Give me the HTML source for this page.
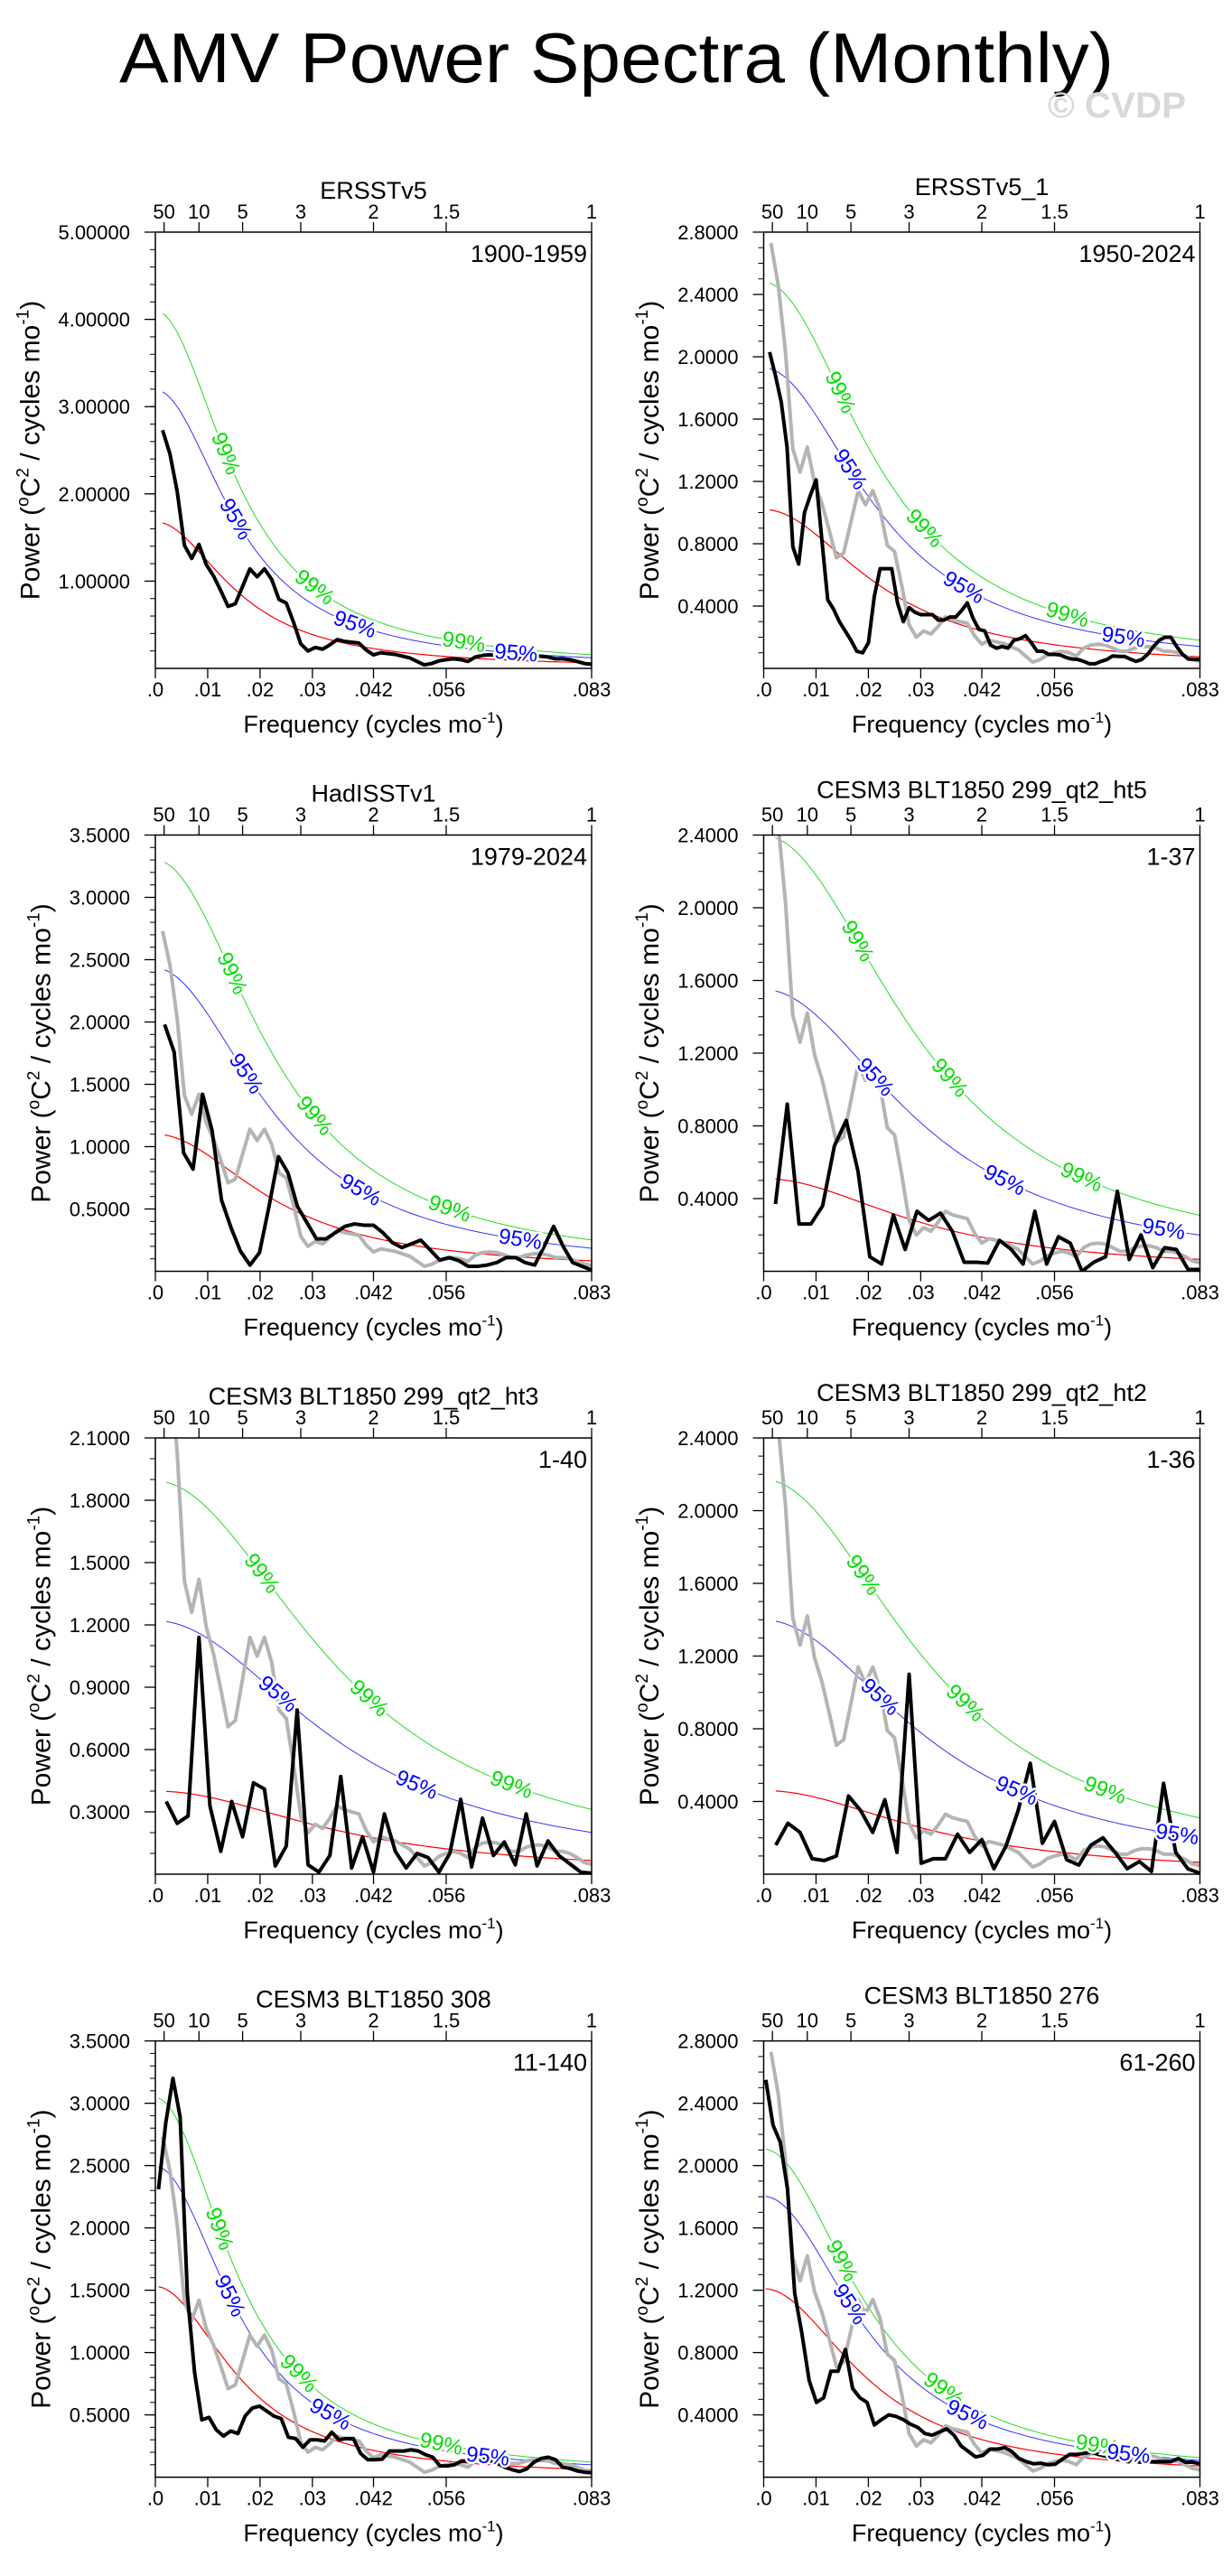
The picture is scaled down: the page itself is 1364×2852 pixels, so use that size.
<!DOCTYPE html>
<html><head><meta charset="utf-8"><title>AMV Power Spectra (Monthly)</title>
<style>
html,body{margin:0;padding:0;background:#fff;}
svg{display:block;font-family:"Liberation Sans",Arial,sans-serif;}
</style></head>
<body>
<svg id="fig" xmlns="http://www.w3.org/2000/svg" width="1364" height="2852" viewBox="0 0 1364 2852">
<rect x="0" y="0" width="1364" height="2852" fill="#fff"/>
<text x="132" y="91" font-size="78" textLength="1101" lengthAdjust="spacingAndGlyphs" fill="#000">AMV Power Spectra (Monthly)</text>
<text x="1160" y="130" font-size="40" font-weight="bold" fill="#d8d8d8" textLength="153" lengthAdjust="spacingAndGlyphs">© CVDP</text>
</svg>
<script>
// ===== Data =====
// Observed reference (ERSSTv5 1900-1959), drawn in grey on panels 2-8
const obsPower = [2.73,2.46,2.03,1.41,1.26,1.42,1.19,1.06,0.89,0.71,0.74,0.94,1.14,1.05,1.14,1.02,0.79,0.75,0.53,0.28,0.20,0.24,0.22,0.27,0.33,0.31,0.30,0.29,0.21,0.155,0.18,0.17,0.16,0.14,0.12,0.08,0.04,0.056,0.086,0.10,0.11,0.10,0.08,0.13,0.15,0.155,0.15,0.13,0.11,0.11,0.13,0.14,0.14,0.13,0.11,0.11,0.10,0.08,0.056,0.047];
const obsF0 = 1/720;

const panelTitles = ["ERSSTv5","ERSSTv5_1","HadISSTv1","CESM3 BLT1850 299_qt2_ht5","CESM3 BLT1850 299_qt2_ht3","CESM3 BLT1850 299_qt2_ht2","CESM3 BLT1850 308","CESM3 BLT1850 276"];
const panelYears = ["1900-1959","1950-2024","1979-2024","1-37","1-40","1-36","11-140","61-260"];

const p1Power = obsPower;
const p2Power = [2.03,1.88,1.71,1.42,0.78,0.67,1.00,1.11,1.21,0.82,0.44,0.38,0.30,0.24,0.18,0.11,0.10,0.165,0.46,0.64,0.64,0.64,0.42,0.30,0.39,0.36,0.345,0.345,0.345,0.31,0.31,0.33,0.33,0.37,0.42,0.32,0.25,0.24,0.15,0.13,0.14,0.13,0.18,0.19,0.21,0.165,0.11,0.11,0.09,0.09,0.086,0.07,0.06,0.057,0.045,0.03,0.03,0.045,0.057,0.08,0.077,0.077,0.06,0.045,0.057,0.09,0.14,0.18,0.20,0.20,0.14,0.09,0.06,0.057,0.057];
const p3Power = [1.98,1.76,0.95,0.82,1.42,1.13,0.57,0.35,0.16,0.05,0.15,0.52,0.92,0.79,0.52,0.39,0.26,0.26,0.31,0.36,0.38,0.37,0.37,0.31,0.23,0.19,0.22,0.25,0.17,0.09,0.11,0.085,0.04,0.04,0.05,0.07,0.11,0.11,0.07,0.05,0.2,0.36,0.2,0.07,0.04,0.01];
const p4Power = [0.37,0.92,0.26,0.26,0.36,0.69,0.83,0.55,0.08,0.04,0.31,0.12,0.33,0.28,0.32,0.22,0.05,0.05,0.045,0.17,0.12,0.04,0.33,0.04,0.19,0.155,0.0,0.05,0.08,0.44,0.065,0.2,0.02,0.13,0.12,0.01,0.01];
const p5Power = [0.35,0.245,0.28,1.14,0.33,0.11,0.35,0.18,0.44,0.41,0.04,0.135,0.79,0.045,0.01,0.09,0.47,0.03,0.18,0.01,0.29,0.11,0.03,0.10,0.08,0.01,0.10,0.36,0.035,0.27,0.09,0.155,0.045,0.29,0.04,0.16,0.09,0.05,0.01,0.005];
const p6Power = [0.16,0.28,0.23,0.085,0.075,0.10,0.43,0.35,0.23,0.41,0.12,1.10,0.06,0.085,0.085,0.22,0.12,0.19,0.03,0.155,0.35,0.61,0.17,0.29,0.08,0.05,0.16,0.20,0.12,0.03,0.07,0.015,0.50,0.12,0.03,0.005];
const p7Power = [2.31,2.84,3.20,2.89,1.47,0.84,0.46,0.48,0.38,0.33,0.37,0.35,0.49,0.555,0.57,0.53,0.49,0.47,0.32,0.31,0.24,0.30,0.30,0.29,0.36,0.30,0.31,0.31,0.19,0.14,0.14,0.145,0.21,0.21,0.21,0.22,0.21,0.18,0.16,0.09,0.09,0.10,0.13,0.13,0.15,0.145,0.13,0.11,0.08,0.06,0.045,0.066,0.12,0.15,0.16,0.14,0.08,0.07,0.05,0.04,0.035];
const p8Power = [2.55,2.26,2.15,1.85,1.18,0.92,0.62,0.48,0.51,0.68,0.68,0.82,0.57,0.51,0.48,0.335,0.37,0.40,0.39,0.37,0.34,0.32,0.28,0.27,0.29,0.31,0.27,0.20,0.165,0.13,0.14,0.18,0.18,0.19,0.165,0.12,0.10,0.086,0.09,0.08,0.083,0.116,0.146,0.146,0.154,0.16,0.146,0.134,0.12,0.11,0.10,0.10,0.096,0.10,0.10,0.10,0.10,0.12,0.096,0.096,0.086];
const panelPower = [p1Power,p2Power,p3Power,p4Power,p5Power,p6Power,p7Power,p8Power];
const panelFirstFreq = [1/720,0.00113,0.00177,1/444,1/480,1/432,0.0006,0.0004];

// red-noise (Markov) fit parameters and significance multipliers
const redNoiseS0 = [1.68,1.02,1.10,0.51,0.40,0.46,1.53,1.21];
const redNoiseLag1 = [0.902,0.865,0.862,0.82,0.795,0.81,0.90,0.878];
const sig95Factor = [1.90,1.89,2.21,3.04,3.05,3.04,1.63,1.49];
const sig99Factor = [2.44,2.43,3.0,4.7,4.73,4.72,1.99,1.74];

// y-axis ranges and ticks
const yMax = [5.0,2.8,3.5,2.4,2.1,2.4,3.5,2.8];
const yMajorStep = [1.0,0.4,0.5,0.4,0.3,0.4,0.5,0.4];
const yMinorStep = [0.2,0.1,0.1,0.1,0.1,0.1,0.1,0.1];
const yDecimals = [5,4,4,4,4,4,4,4];

// x-axis ticks
const xTickValues = [0,0.01,0.02,0.03,1/24,1/18,1/12];
const xTickLabels = [".0",".01",".02",".03",".042",".056",".083"];
const periodTickYears = [50,10,5,3,2,1.5,1];
const periodTickLabels = ["50","10","5","3","2","1.5","1"];

// label positions (frequency) along significance curves
const label99Freq = [[0.0134,0.0304,0.0589],[0.0146,0.0307,0.058],[0.0146,0.0304,0.0562],[0.0179,0.0355,0.0607],[0.0203,0.0408,0.068],[0.019,0.0385,0.0652],[0.0122,0.0274,0.0546],[0.0149,0.0344,0.0637]];
const label95Freq = [[0.0153,0.0381,0.0689],[0.0165,0.0382,0.0687],[0.0173,0.0392,0.0697],[0.0213,0.046,0.0764],[0.0234,0.0499],[0.0222,0.0483,0.079],[0.0142,0.0334,0.0635],[0.0164,0.0389,0.0697]];

// ===== Layout =====
const colX = [172,845.5];
const rowY = [257,924.5,1592,2259.6];
const PW = 483, PH = 483, FMAX = 1/12;
const NS = "http://www.w3.org/2000/svg";
const svg = document.getElementById('fig');

function mk(tag, attrs, parent){
  const e = document.createElementNS(NS, tag);
  for (const k in attrs) e.setAttribute(k, attrs[k]);
  (parent||svg).appendChild(e);
  return e;
}
function redNoise(i,f){
  const r = redNoiseLag1[i];
  return redNoiseS0[i]*(1-r)*(1-r)/(1+r*r-2*r*Math.cos(2*Math.PI*f));
}

for (let p=0; p<8; p++){
  const col = p%2, row = Math.floor(p/2);
  const X0 = colX[col], Y0 = rowY[row];
  const xs = f => X0 + f/FMAX*PW;
  const ys = v => Y0 + PH - v/yMax[p]*PH;

  const g = mk('g',{});
  
  

  const clipId = 'clip'+p;
  const cp = mk('clipPath',{id:clipId}, g);
  mk('rect',{x:X0,y:Y0,width:PW,height:PH}, cp);
  const plot = mk('g',{'clip-path':'url(#'+clipId+')'}, g);

  const nC = 120, f0 = panelFirstFreq[p];
  function curvePath(fac){
    let d='';
    for (let k=0;k<=nC;k++){
      const f = f0 + (FMAX-f0)*k/nC;
      d += (k?'L':'M') + xs(f).toFixed(2)+','+ys(redNoise(p,f)*fac).toFixed(2);
    }
    return d;
  }
  const c99 = mk('path',{d:curvePath(sig99Factor[p]),fill:'none',stroke:'#22dd22','stroke-width':1}, plot);
  
  
  const c95 = mk('path',{d:curvePath(sig95Factor[p]),fill:'none',stroke:'#3333ff','stroke-width':1}, plot);
  
  
  const cr = mk('path',{d:curvePath(1),fill:'none',stroke:'#ff0000','stroke-width':1.2}, plot);
  
  

  if (p>0){
    let d='';
    obsPower.forEach((v,k)=>{ const f = obsF0 + (FMAX-obsF0)*k/(obsPower.length-1); d += (k?'L':'M')+xs(f).toFixed(2)+','+ys(v).toFixed(2); });
    const gl = mk('path',{d:d,fill:'none',stroke:'#b4b4b4','stroke-width':4,'stroke-linejoin':'round'}, plot);
    
    
  }
  {
    const arr = panelPower[p];
    let d='';
    arr.forEach((v,k)=>{ const f = f0 + (FMAX-f0)*k/(arr.length-1); d += (k?'L':'M')+xs(f).toFixed(2)+','+ys(v).toFixed(2); });
    const bl = mk('path',{d:d,fill:'none',stroke:'#000','stroke-width':4,'stroke-linejoin':'round'}, plot);
    
    
  }

  function addLabel(f, fac, txt, color, nm){
    const x = xs(f), y = ys(redNoise(p,f)*fac);
    const x2 = xs(f+0.0005), y2 = ys(redNoise(p,f+0.0005)*fac);
    const ang = Math.atan2(y2-y, x2-x)*180/Math.PI;
    const t = mk('text',{x:x,y:y,'font-size':24,fill:color,'text-anchor':'middle','dominant-baseline':'central',
      stroke:'#fff','stroke-width':5,'paint-order':'stroke',transform:'rotate('+ang.toFixed(1)+' '+x.toFixed(1)+' '+y.toFixed(1)+')'}, g);
    t.textContent = txt;
    
    
  }
  label99Freq[p].forEach(f=>addLabel(f, sig99Factor[p], '99%', '#00dd00', 'sig99-label'));
  label95Freq[p].forEach(f=>addLabel(f, sig95Factor[p], '95%', '#0000ff', 'sig95-label'));

  const fr = mk('rect',{x:X0,y:Y0,width:PW,height:PH,fill:'none',stroke:'#000','stroke-width':1.5}, g);
  
  

  const nMin = Math.round(yMax[p]/yMinorStep[p]);
  for (let k=1;k<=nMin;k++){
    const v = k*yMinorStep[p];
    mk('line',{x1:X0-6,x2:X0,y1:ys(v),y2:ys(v),stroke:'#000','stroke-width':1}, g);
  }
  const nMaj = Math.round(yMax[p]/yMajorStep[p]);
  for (let k=1;k<=nMaj;k++){
    const v = k*yMajorStep[p];
    mk('line',{x1:X0-12,x2:X0,y1:ys(v),y2:ys(v),stroke:'#000','stroke-width':1.3}, g);
    const t = mk('text',{x:X0-28,y:ys(v)+8,'font-size':22,'text-anchor':'end',fill:'#000'}, g);
    t.textContent = v.toFixed(yDecimals[p]);
    
    
  }
  xTickValues.forEach((v,k)=>{
    mk('line',{x1:xs(v),x2:xs(v),y1:Y0+PH,y2:Y0+PH+11,stroke:'#000','stroke-width':1.3}, g);
    const t = mk('text',{x:xs(v),y:Y0+PH+31,'font-size':22,'text-anchor':'middle',fill:'#000'}, g);
    t.textContent = xTickLabels[k];
    
    
  });
  periodTickYears.forEach((yr,k)=>{
    const x = xs(1/(12*yr));
    mk('line',{x1:x,x2:x,y1:Y0,y2:Y0-11,stroke:'#000','stroke-width':1.3}, g);
    const t = mk('text',{x:x,y:Y0-15,'font-size':22,'text-anchor':'middle',fill:'#000'}, g);
    t.textContent = periodTickLabels[k];
    
    
  });

  const tt = mk('text',{x:X0+PW/2,y:Y0-(col?41:37),'font-size':27,'text-anchor':'middle',fill:'#000'}, g);
  tt.textContent = panelTitles[p];
  
  
  const yr = mk('text',{x:X0+PW-5,y:Y0+33,'font-size':27,'text-anchor':'end',fill:'#000'}, g);
  yr.textContent = panelYears[p];
  
  

  const xt = mk('text',{x:X0+PW/2,y:Y0+PH+71,'font-size':27,'text-anchor':'middle',fill:'#000'}, g);
  xt.innerHTML = 'Frequency (cycles mo<tspan font-size="17" dy="-11">-1</tspan><tspan dy="11">)</tspan>';
  
  

  const lblChars = yDecimals[p]+1;
  const lblW = (lblChars*0.556+0.278)*22;
  const tx = X0-28-lblW-21, ty = Y0+PH/2;
  const yt = mk('text',{x:tx,y:ty,'font-size':30,'text-anchor':'middle',fill:'#000',transform:'rotate(-90 '+tx+' '+ty+')'}, g);
  yt.innerHTML = 'Power (<tspan font-size="19" dy="-12">o</tspan><tspan dy="12">C</tspan><tspan font-size="19" dy="-12">2</tspan><tspan dy="12"> / cycles mo</tspan><tspan font-size="19" dy="-12">-1</tspan><tspan dy="12">)</tspan>';
  
  
}
</script>
</body></html>
